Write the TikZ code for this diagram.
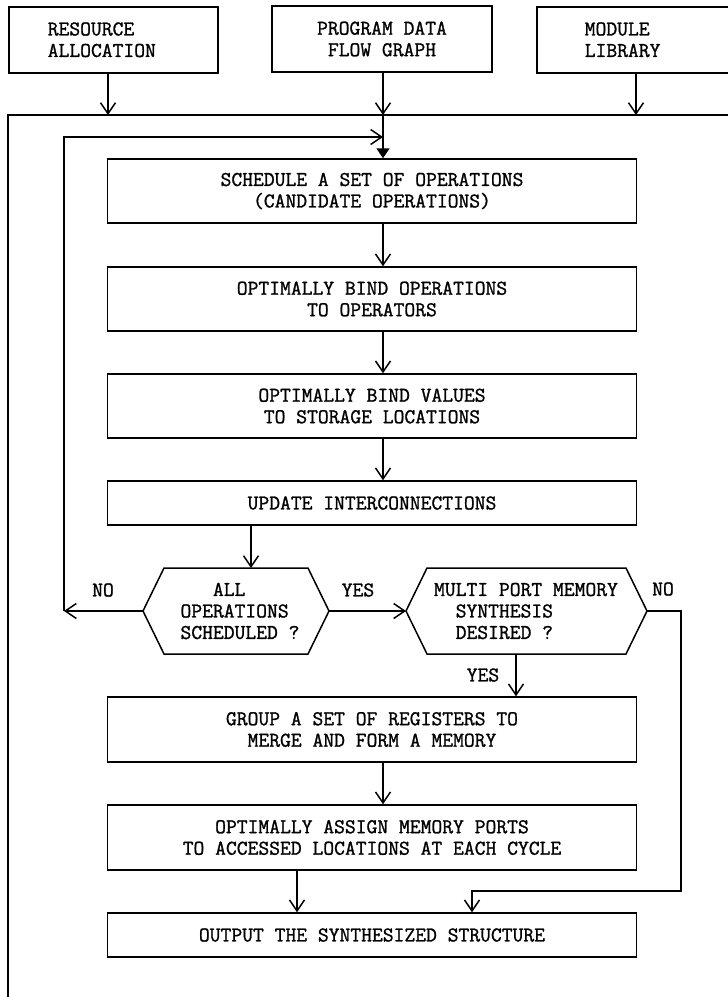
\documentclass[tikz,border=0pt]{standalone}
\usepackage{fontspec}
\usetikzlibrary{arrows.meta}
\newfontfamily\typew[FakeBold=1.2]{Latin Modern Mono}

\begin{document}
\begin{tikzpicture}[x=1pt,y=-1pt,
	font=\typew\fontsize{21}{21.5}\selectfont,
	line width=1.5pt,
	>={Straight Barb[length=11pt,width=15pt,line width=1.5pt]},
	stepbox/.style={draw, minimum width=529, minimum height=64, align=center, inner sep=0pt},
	srcbox/.style={draw, minimum height=66, inner ysep=0pt},
	lbl/.style={inner sep=0pt}]
	\useasboundingbox (0,0) rectangle (728,997);
	\clip (0,0) rectangle (728,997);
	% Inputs and outer frame:
	\node[srcbox, anchor=north west, text width=131, inner xsep=39, align=left] (res) at (8,6) {RESOURCE\\ALLOCATION};
	\node[srcbox, minimum width=220, align=center] (pdfg) at (382,39) {PROGRAM DATA\\FLOW GRAPH};
	\node[srcbox, anchor=north west, text width=140, inner xsep=48, align=left] (lib) at (536,6) {MODULE\\LIBRARY};
	\draw (8,1010) |- (780,115);
	\coordinate (inR) at (108,115);
	\coordinate (inP) at (383,115);
	\coordinate (inM) at (636,115);
	\coordinate (merge) at (383,137);
	\draw[->] (res.south -| inR) -- (inR);
	\draw[->] (pdfg.south -| inP) -- (inP);
	\draw[->] (lib.south -| inM) -- (inM);
	% Main steps:
	\node[stepbox] (sched) at (372,191) {SCHEDULE A SET OF OPERATIONS\\(CANDIDATE OPERATIONS)};
	\node[stepbox] (bindop) at (372,299) {OPTIMALLY BIND OPERATIONS\\TO OPERATORS};
	\node[stepbox] (bindval) at (372,406) {OPTIMALLY BIND VALUES\\TO STORAGE LOCATIONS};
	\node[stepbox, minimum height=44] (update) at (372,503) {UPDATE INTERCONNECTIONS};
	\draw[-{Triangle[length=10pt,width=13pt]}] (inP) -- (inP |- sched.north);
	\draw[->] (sched.south -| inP) -- (bindop.north -| inP);
	\draw[->] (bindop.south -| inP) -- (bindval.north -| inP);
	\draw[->] (bindval.south -| inP) -- (update.north -| inP);
	% Tests:
	\coordinate (t1w) at (143,611);
	\coordinate (t1e) at (329,611);
	\coordinate (t1n) at (251,568);
	\draw (t1w) -- (164,568) -- (308,568) -- (t1e) -- (308,654) -- (164,654) -- cycle;
	\node[lbl, align=left] (t1) at (240,611) {\phantom{OPE}ALL\\OPERATIONS\\SCHEDULED ?};
	\coordinate (t2w) at (406,611);
	\coordinate (t2e) at (647,611);
	\coordinate (t2s) at (516,654);
	\draw (t2w) -- (427,568) -- (626,568) -- (t2e) -- (626,654) -- (427,654) -- cycle;
	\node[lbl, align=left] (t2) at (526,611) {MULTI PORT MEMORY\\\phantom{MU}SYNTHESIS\\\phantom{MU}DESIRED ?};
	\draw[->] (update.south -| t1n) -- (t1n);
	\draw[->] (t1e) -- (t2w);
	\coordinate (fb) at (64,611);
	\draw[->] (t1w) -- (fb);
	\draw[->] (fb) |- (merge);
	\node[lbl] (no1) at (103,590) {NO};
	\node[lbl] (yes1) at (358,590) {YES};
	\node[lbl] (no2) at (663,589) {NO};
	\node[lbl] (yes2) at (483,675) {YES};
	% Memory synthesis:
	\node[stepbox, minimum height=65] (group) at (372,729.5) {GROUP A SET OF REGISTERS TO\\MERGE AND FORM A MEMORY};
	\node[stepbox, minimum height=65] (assign) at (372,837.5) {OPTIMALLY ASSIGN MEMORY PORTS\\TO ACCESSED LOCATIONS AT EACH CYCLE};
	\node[stepbox, minimum height=44] (output) at (372,935) {OUTPUT THE SYNTHESIZED STRUCTURE};
	\coordinate (noturn) at (681,891);
	\coordinate (nob) at (472,891);
	\draw[->] (t2s) -- (t2s |- group.north);
	\draw[->] (group.south -| inP) -- (assign.north -| inP);
	\draw[->] ([xshift=-75]assign.south) -- ([xshift=-75]output.north);
	\draw[->] (t2e) -| (noturn) -| (nob |- output.north);
\end{tikzpicture}
\end{document}
